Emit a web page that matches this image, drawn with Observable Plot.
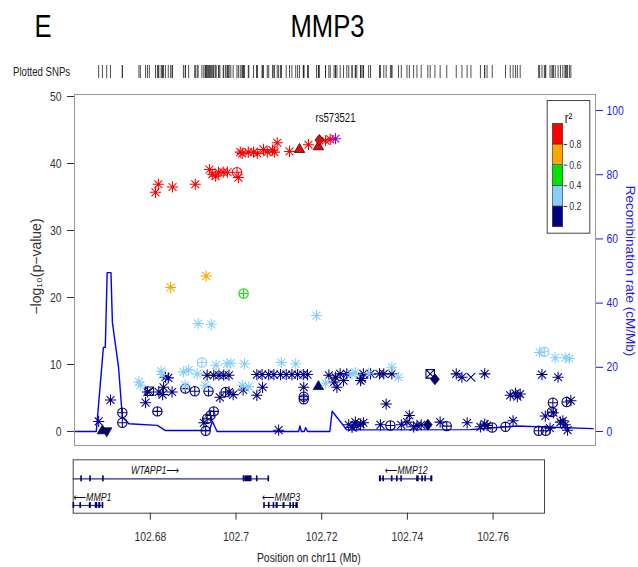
<!DOCTYPE html>
<html><head><meta charset="utf-8">
<script src="https://cdn.jsdelivr.net/npm/d3@7"></script>
<script src="https://cdn.jsdelivr.net/npm/@observablehq/plot@0.6"></script>
<style>
html,body{margin:0;padding:0;background:#fff;}
#chart{position:relative;width:638px;height:567px;overflow:hidden;background:#fff;}
</style></head><body><div id="chart"></div>
<script>
// ---------------- data ----------------
const panelLetter = "E";
const geneTitle = "MMP3";
const indexName = "rs573521";
const regionMb = [102.662, 102.772];
const xTicks = [102.68, 102.7, 102.72, 102.74, 102.76];
const leftTicks = [0, 10, 20, 30, 40, 50];
const rightTicks = [0, 20, 40, 60, 80, 100];
const legendTicks = [0.2, 0.4, 0.6, 0.8];
const r2Breaks = [0, 0.2, 0.4, 0.6, 0.8, 1];

const binKeys   = ["0-0.2", "0.2-0.4", "0.4-0.6", "0.6-0.8", "0.8-1", "index"];
const binColors = ["#000080", "#87CEFA", "#00E400", "#FFA500", "#FF0000", "#9400D3"];

// [position (Mb), -log10 p, shape]
const indexSNP = [[102.7171, 43.7, "*"]];
const redSNPs = [
  [102.6791,35.7,"*"],[102.6797,36.9,"*"],[102.6827,36.5,"*"],[102.6875,36.9,"*"],
  [102.6905,39.1,"*"],[102.6911,38.4,"*"],[102.6918,38.1,"*"],[102.6924,38.7,"*"],
  [102.6934,38.7,"*"],[102.6943,38.7,"*"],[102.6963,38.7,"o+"],[102.6966,37.9,"*"],
  [102.6970,41.7,"*"],[102.6974,41.5,"*"],[102.6987,41.7,"*"],[102.6998,41.7,"*"],
  [102.7006,41.5,"*"],[102.7019,42.1,"*"],[102.7027,41.7,"*"],[102.7038,42.0,"*"],
  [102.7042,41.7,"*"],[102.7048,43.1,"*"],[102.7074,41.8,"*"],[102.7095,42.1,"^"],
  [102.7114,42.8,"*"],[102.7135,42.5,"^"],[102.7137,43.5,"d"],[102.7150,43.4,"*"],
  [102.7160,43.6,"*"]
];
const orangeSNPs = [[102.6823,21.5,"*"],[102.6898,23.2,"*"]];
const greenSNPs = [[102.6977,20.6,"o+"]];
const lightBlueSNPs = [
  [102.6881,16.1,"*"],[102.6909,16.0,"*"],[102.7131,17.3,"*"],
  [102.6756,7.4,"*"],[102.6759,6.9,"*"],[102.6803,9.0,"*"],[102.6805,8.5,"*"],
  [102.6850,8.9,"*"],[102.6854,6.9,"*"],[102.6861,9.2,"*"],[102.6879,8.6,"*"],
  [102.6889,10.3,"o+"],[102.6896,6.9,"*"],[102.6919,9.9,"*"],[102.6942,10.1,"*"],
  [102.6950,10.2,"*"],[102.6974,6.9,"*"],[102.6979,10.1,"*"],[102.6988,6.7,"*"],
  [102.7057,10.3,"*"],[102.7087,10.1,"*"],[102.7150,7.2,"*"],[102.7206,8.6,"*"],
  [102.7213,8.8,"*"],[102.7241,8.7,"*"],[102.7290,9.6,"*"],[102.7304,8.1,"*"],
  [102.7602,11.8,"*"],[102.7612,11.9,"o+"],[102.7635,11.0,"*"],[102.7656,11.0,"*"],
  [102.7665,10.9,"*"]
];
const navySNPs = [
  [102.6671,1.5,"*"],[102.6696,4.7,"*"],[102.6770,4.3,"*"],[102.6774,5.9,"*"],
  [102.6798,5.9,"*"],[102.6806,5.5,"*"],[102.6812,8.1,"*"],[102.6818,8.0,"*"],
  [102.6826,5.9,"*"],[102.6808,6.6,"*"],
  [102.6900,8.4,"*"],[102.6914,8.4,"*"],[102.6925,8.4,"*"],[102.6935,8.4,"*"],
  [102.6946,8.4,"*"],[102.6927,5.1,"*"],[102.6955,5.5,"*"],[102.6946,5.9,"*"],
  [102.6976,6.2,"*"],
  [102.7005,8.5,"*"],[102.7016,8.5,"*"],[102.7030,8.5,"*"],[102.7041,8.5,"*"],
  [102.7055,8.5,"*"],[102.7067,8.5,"*"],[102.7079,8.5,"*"],[102.7091,8.5,"*"],
  [102.7103,8.5,"*"],[102.7112,8.5,"*"],
  [102.7005,5.4,"*"],[102.7017,6.6,"*"],[102.7104,6.6,"*"],
  [102.7157,8.4,"*"],[102.7168,7.4,"*"],[102.7171,8.1,"*"],[102.7174,6.6,"*"],
  [102.7181,8.6,"*"],[102.7188,7.6,"*"],[102.7195,8.6,"*"],[102.7224,7.6,"*"],
  [102.7227,7.9,"*"],[102.7230,8.6,"*"],[102.7245,8.6,"*"],[102.7264,8.6,"*"],
  [102.7273,8.6,"*"],[102.7290,8.6,"*"],[102.7278,4.1,"*"],
  [102.7426,8.6,"*"],[102.7438,8.1,"*"],[102.7486,8.6,"*"],[102.7540,5.4,"*"],
  [102.7551,5.7,"*"],[102.7555,5.2,"*"],[102.7561,5.6,"*"],[102.7607,8.5,"*"],
  [102.7641,8.1,"*"],[102.7668,4.6,"*"],[102.7614,2.3,"*"],[102.7631,2.8,"*"],
  [102.6893,1.3,"*"],[102.7051,0.2,"*"],[102.7199,1.0,"*"],[102.7206,0.6,"*"],
  [102.7213,1.4,"*"],[102.7216,0.8,"*"],[102.7224,1.1,"*"],[102.7230,1.3,"*"],
  [102.7266,1.0,"*"],[102.7310,1.0,"*"],[102.7322,1.4,"*"],[102.7327,2.4,"*"],
  [102.7336,0.7,"*"],[102.7343,0.9,"*"],[102.7352,1.0,"*"],[102.7392,1.4,"*"],
  [102.7449,1.3,"*"],[102.7477,0.7,"*"],[102.7486,1.1,"*"],[102.7491,0.9,"*"],
  [102.7546,1.6,"*"],[102.7624,0.5,"*"],[102.7646,1.4,"*"],[102.7651,1.6,"*"],
  [102.7656,1.0,"*"],[102.7661,0.2,"*"],
  [102.6721,2.8,"o+"],[102.6721,1.3,"o+"],[102.6795,3.0,"o+"],[102.6854,6.4,"o+"],
  [102.6874,6.0,"o+"],[102.6903,6.0,"o+"],[102.6939,5.9,"o+"],[102.6897,0.1,"o+"],
  [102.6900,1.9,"o+"],[102.6907,2.4,"o+"],[102.6914,3.0,"o+"],[102.7104,5.2,"o+"],
  [102.7104,4.8,"o+"],[102.7287,0.9,"o+"],[102.7406,0.8,"o+"],[102.7502,0.6,"o+"],
  [102.7530,0.7,"o+"],[102.7600,0.1,"o+"],[102.7615,0.1,"o+"],[102.7630,4.3,"o+"],
  [102.7628,2.9,"o+"],[102.7659,4.4,"o+"],
  [102.7135,6.7,"^"],[102.6679,0.1,"^"],[102.6688,0.1,"v"],[102.7381,7.8,"d"],
  [102.7366,1.0,"d"],[102.7371,8.6,"sx"],[102.6778,6.0,"sx"],[102.7457,8.1,"x"]
];

// recombination rate (cM/Mb)
const recombPos  = [102.6620,102.6666,102.6681,102.6685,102.6689,102.6697,102.6700,102.6713,102.6721,102.6735,
                    102.6795,102.6812,102.6905,102.6911,102.6921,102.7093,102.7096,102.7099,102.7105,102.7108,
                    102.7112,102.7159,102.7164,102.7195,102.7456,102.7554,102.7614,102.7715];
const recombRate = [0,0,26.2,26.2,49.5,49.5,34.0,20.0,4.5,2.4,
                    1.9,0.3,0.3,3.2,0,0,1.7,0,0,1.2,
                    0,0,6.3,0.5,0.6,1.7,1.4,0.9];

// genes
const geneNames   = ["WTAPP1", "MMP1", "MMP3", "MMP12"];
const geneStrands = ["+", "-", "-", "-"];
const geneRows    = [1, 2, 2, 1];
const geneStarts  = [102.6545, 102.6607, 102.7066, 102.7336];
const geneEnds    = [102.7077, 102.6691, 102.7144, 102.7458];
const geneExons = [
  [[102.6639,102.6640],[102.6660,102.6661],[102.6690,102.6691],[102.7018,102.7020],[102.7023,102.7036],[102.7049,102.7050],[102.7076,102.7077]],
  [[102.6621,102.6622],[102.6637,102.6638],[102.6659,102.6661],[102.6673,102.6676],[102.6681,102.6683],[102.6689,102.6690]],
  [[102.7066,102.7067],[102.7077,102.7078],[102.7088,102.7089],[102.7095,102.7097],[102.7111,102.7113],[102.7127,102.7128],[102.7134,102.7135],[102.7141,102.7144]],
  [[102.7336,102.7338],[102.7344,102.7345],[102.7364,102.7365],[102.7376,102.7377],[102.7386,102.7387],[102.7423,102.7426],[102.7435,102.7436],[102.7442,102.7443],[102.7456,102.7458]]
];

const yLabel = "\u2212log\u2081\u2080(p\u2212value)";
const y2Label = "Recombination rate (cM/Mb)";
const xLabel = "Position on chr11 (Mb)";
const rugLabel = "Plotted SNPs";

// ---------------- tables ----------------
const groups = [[navySNPs,"0-0.2"],[lightBlueSNPs,"0.2-0.4"],[greenSNPs,"0.4-0.6"],[orangeSNPs,"0.6-0.8"],[redSNPs,"0.8-1"],[indexSNP,"index"]];
const snps = groups.flatMap(([arr, bin]) => arr.map(([pos, logp, shape]) => ({pos, logp, shape, bin})));
const recomb = recombPos.map((pos, i) => ({pos, rate: recombRate[i]}));
const genes = geneNames.map((name, i) => ({name, strand: geneStrands[i], row: geneRows[i], start: geneStarts[i], end: geneEnds[i]}));
const exons = genes.flatMap((g, i) => geneExons[i].map(([s, e]) => ({row: g.row, start: s, end: e})));
const legendBins = binKeys.slice(0, 5).map((k, i) => ({bin: k, lo: r2Breaks[i], hi: r2Breaks[i + 1]}));

// ---------------- symbols ----------------
const rad = s => Math.sqrt(s / Math.PI);
const SYM = {
  "*": {draw(c, s) { const r = rad(s), d = r * Math.SQRT1_2;
    c.moveTo(-r, 0); c.lineTo(r, 0); c.moveTo(0, -r); c.lineTo(0, r);
    c.moveTo(-d, -d); c.lineTo(d, d); c.moveTo(-d, d); c.lineTo(d, -d); }},
  "o+": {draw(c, s) { const r = rad(s);
    c.moveTo(r, 0); c.arc(0, 0, r, 0, 2 * Math.PI);
    c.moveTo(-r, 0); c.lineTo(r, 0); c.moveTo(0, -r); c.lineTo(0, r); }},
  "^": {draw(c, s) { const r = rad(s);
    c.moveTo(0, -r); c.lineTo(r * 0.866, r * 0.5); c.lineTo(-r * 0.866, r * 0.5); c.closePath(); }},
  "v": {draw(c, s) { const r = rad(s);
    c.moveTo(0, r); c.lineTo(r * 0.866, -r * 0.5); c.lineTo(-r * 0.866, -r * 0.5); c.closePath(); }},
  "d": {draw(c, s) { const r = rad(s);
    c.moveTo(0, -r); c.lineTo(r * 0.8, 0); c.lineTo(0, r); c.lineTo(-r * 0.8, 0); c.closePath(); }},
  "sx": {draw(c, s) { const r = rad(s) * 0.85;
    c.moveTo(-r, -r); c.lineTo(r, -r); c.lineTo(r, r); c.lineTo(-r, r); c.closePath();
    c.moveTo(-r, -r); c.lineTo(r, r); c.moveTo(-r, r); c.lineTo(r, -r); }},
  "x": {draw(c, s) { const r = rad(s) * 0.8;
    c.moveTo(-r, -r); c.lineTo(r, r); c.moveTo(-r, r); c.lineTo(r, -r); }}
};
const SIZE = {"*": 5.6, "o+": 4.7, "^": 6, "v": 6, "d": 5.5, "sx": 5, "x": 5.5};
const FILLED = new Set(["^", "v", "d"]);

// ---------------- layout ----------------
const W = 638, H = 567;
const FONT = '"Liberation Sans", Arial, Helvetica, "DejaVu Sans", sans-serif';
const main = {marginLeft: 74, marginRight: 43, marginTop: 94, marginBottom: 122};
const colorScale = {domain: binKeys, range: binColors};
const root = document.getElementById("chart");

function mk(opts) {
  const svg = Plot.plot({width: W, height: H, ...opts});
  svg.style.position = "absolute"; svg.style.left = "0px"; svg.style.top = "0px";
  svg.style.background = "transparent"; svg.style.maxWidth = "none"; svg.style.overflow = "visible";
  svg.style.fontFamily = FONT;
  root.appendChild(svg);
  return svg;
}

// recombination layer (under the points)
mk({
  ...main,
  x: {domain: regionMb, axis: null},
  y: {domain: [-4.36, 105.0], axis: null},
  marks: [
    Plot.line(recomb, {x: "pos", y: "rate", stroke: "#0000FF", strokeWidth: 1.4}),
    Plot.axisY({anchor: "right", ticks: rightTicks, tickSize: 7, tickPadding: 4, fontSize: 13, color: "#1a1aff", label: null}),
    Plot.text([y2Label], {text: d => d, frameAnchor: "right", textAnchor: "middle", dx: 35, dy: 1, rotate: 90, fontSize: 13.5, fill: "#1a1aff"})
  ]
});

// association points
const pointMarks = [];
for (const bin of binKeys) {
  for (const shape of Object.keys(SYM)) {
    const data = snps.filter(d => d.bin === bin && d.shape === shape);
    if (!data.length) continue;
    pointMarks.push(Plot.dot(data, {
      x: "pos", y: "logp", symbol: SYM[shape], r: SIZE[shape],
      stroke: FILLED.has(shape) ? "#111" : "bin",
      fill: FILLED.has(shape) ? "bin" : "none",
      strokeWidth: FILLED.has(shape) ? 0.8 : 1.05
    }));
  }
}
mk({
  ...main,
  x: {domain: regionMb, axis: null},
  y: {domain: [-2.09, 50.3], axis: null},
  color: colorScale,
  marks: [
    Plot.frame({stroke: "#9a9a9a"}),
    Plot.axisY({ticks: leftTicks, tickSize: 7, tickPadding: 6, fontSize: 13, color: "#333", label: null}),
    Plot.text([yLabel], {text: d => d, frameAnchor: "left", textAnchor: "middle", dx: -38, dy: -3.5, rotate: -90, fontSize: 14, fill: "#333"}),
    ...pointMarks,
    Plot.text(indexSNP, {x: d => d[0], y: d => d[1], text: () => indexName, dy: -21, fontSize: 12, fill: "#111"})
  ]
});

// legend box
mk({
  marginLeft: 546.7, marginRight: W - 589.3, marginTop: 100, marginBottom: H - 232.7,
  marks: [
    Plot.frame({fill: "white", stroke: "#444"}),
    Plot.text(["r\u00B2"], {text: d => d, frameAnchor: "top", dy: 13, fontSize: 14, fill: "#222"})
  ]
});
mk({
  marginLeft: 552.3, marginRight: W - 562.7, marginTop: 123.3, marginBottom: H - 226.7,
  y: {domain: [0, 1], axis: null},
  color: colorScale,
  marks: [
    Plot.rect(legendBins, {y1: "lo", y2: "hi", fill: "bin", stroke: "#333", strokeWidth: 0.6}),
    Plot.axisY({anchor: "right", ticks: legendTicks, tickSize: 3.5, tickPadding: 2.5, fontSize: 11, color: "#333", label: null})
  ]
});

// plotted SNPs rug
mk({
  marginLeft: main.marginLeft, marginRight: main.marginRight, marginTop: 65, marginBottom: H - 78,
  x: {domain: regionMb, axis: null},
  marks: [Plot.ruleX(snps, {x: "pos", stroke: "#222", strokeWidth: 0.8})]
});

// header text
mk({
  marginLeft: 0, marginRight: 0, marginTop: 0, marginBottom: 0,
  marks: [
    Plot.text([panelLetter], {text: d => d, frameAnchor: "top-left", dx: 34, dy: 36.7, lineAnchor: "bottom", textAnchor: "start", fontSize: 32, fill: "#000"}),
    Plot.text([geneTitle], {text: d => d, frameAnchor: "top-left", dx: 327, dy: 36.7, lineAnchor: "bottom", textAnchor: "middle", fontSize: 32, fill: "#000"}),
    Plot.text([rugLabel], {text: d => d, frameAnchor: "top-left", dx: 12.5, dy: 75.5, lineAnchor: "bottom", textAnchor: "start", fontSize: 12, fill: "#222"})
  ]
});

// gene panel
const labelText = g => g.strand === "+" ? g.name + "\u27F6" : "\u27F5" + g.name;
mk({
  marginLeft: 72.7, marginRight: W - 544, marginTop: 459.3, marginBottom: H - 512.7,
  x: {domain: regionMb},
  y: {domain: [0.288, 2.288], reverse: true, axis: null},
  marks: [
    Plot.frame({stroke: "#444"}),
    Plot.ruleY(genes, {x1: g => Math.max(g.start, regionMb[0]), x2: "end", y: "row", stroke: "#2a2a9a", strokeWidth: 1.2}),
    Plot.rect(exons, {x1: "start", x2: "end", y1: d => d.row - 0.11, y2: d => d.row + 0.11, fill: "#000070", insetLeft: -0.6, insetRight: -0.6}),
    Plot.text(genes, {x: g => Math.max((g.start + g.end) / 2, regionMb[0] + 0.0045), y: "row", text: labelText, dy: -5, lineAnchor: "bottom", fontStyle: "italic", fontSize: 11, fill: "#111"}),
    Plot.axisX({ticks: xTicks, tickFormat: d => String(+d.toFixed(2)), tickSize: 7, tickPadding: 12, fontSize: 13, color: "#333", label: null}),
    Plot.text([xLabel], {text: d => d, frameAnchor: "bottom", dy: 48.3, lineAnchor: "bottom", fontSize: 13, fill: "#222"})
  ]
});

// horizontal condensing of upright text (the reference figure is squeezed horizontally)
for (const t of root.querySelectorAll("svg text")) {
  const tr = t.getAttribute("transform") || "";
  if (tr.includes("rotate")) continue;
  const w = t.getComputedTextLength();
  if (w > 0) { t.setAttribute("textLength", (w * 0.8).toFixed(2)); t.setAttribute("lengthAdjust", "spacingAndGlyphs"); }
}
</script></body></html>
